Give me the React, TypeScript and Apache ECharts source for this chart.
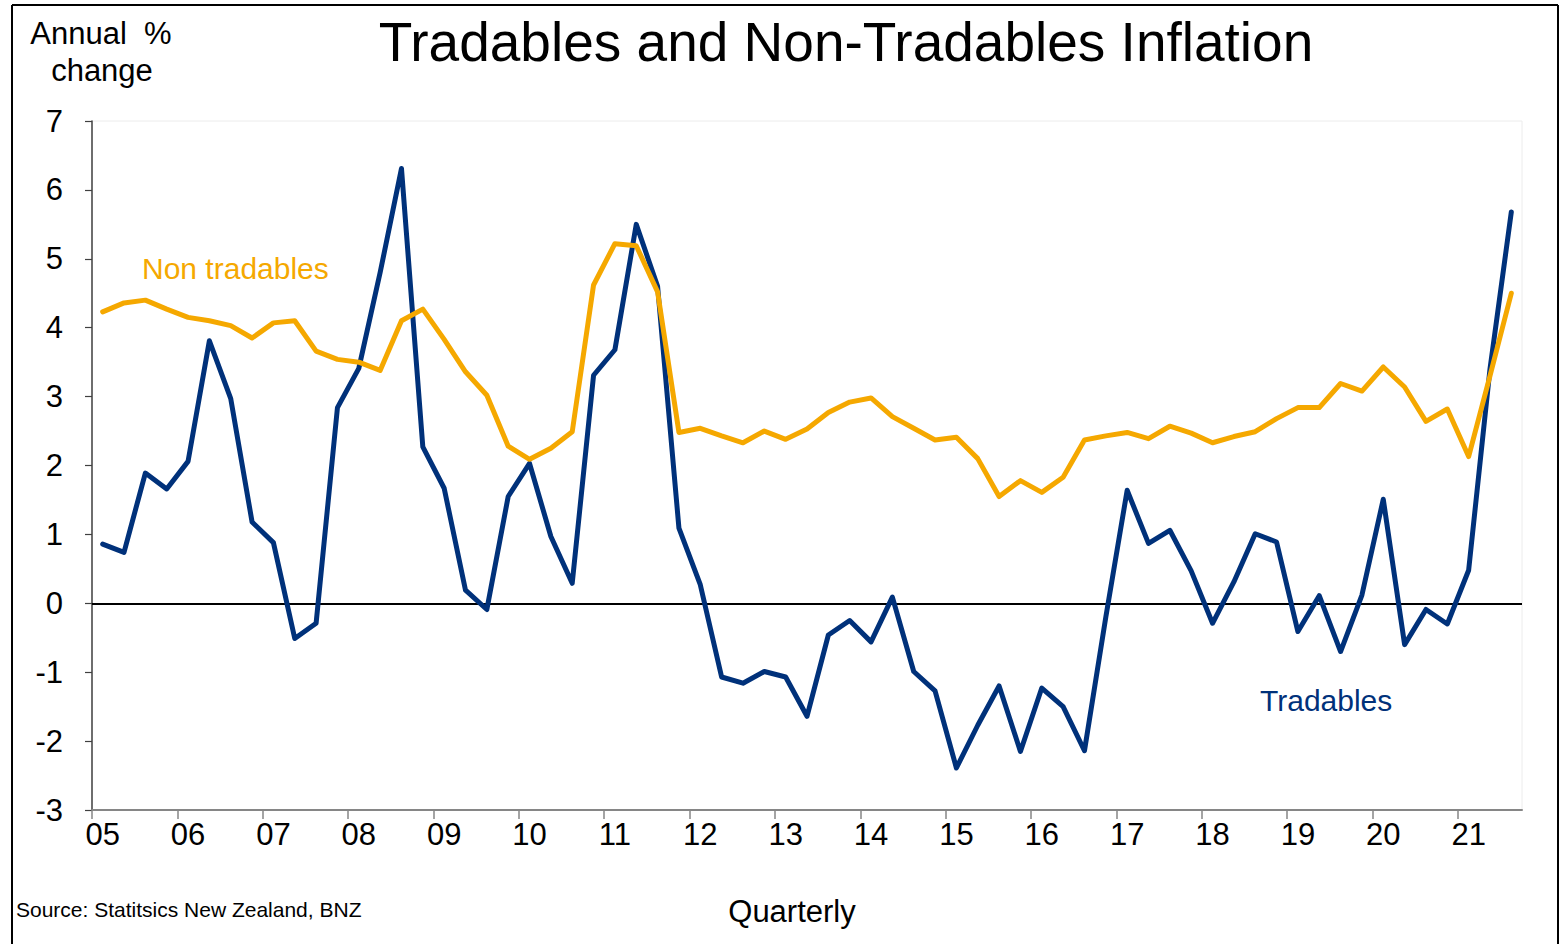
import { useEffect, useRef } from 'react';
import * as echarts from 'echarts';

// Quarterly data, Mar-2005 .. Sep-2021 (67 quarters)
const yearLabels = ['05', '06', '07', '08', '09', '10', '11', '12', '13', '14', '15', '16', '17', '18', '19', '20', '21'];

const tradables = [
  0.86, 0.74, 1.89, 1.66, 2.06, 3.81, 2.97, 1.18, 0.88, -0.51, -0.29, 2.84, 3.41, 4.8, 6.31, 2.27,
  1.67, 0.19, -0.09, 1.55, 2.03, 0.97, 0.29, 3.31, 3.68, 5.5, 4.6, 1.09, 0.27, -1.07, -1.16, -0.99,
  -1.07, -1.64, -0.46, -0.25, -0.56, 0.09, -0.99, -1.27, -2.39, -1.77, -1.2, -2.15, -1.23, -1.5, -2.14, -0.2,
  1.64, 0.87, 1.06, 0.47, -0.29, 0.31, 1.01, 0.89, -0.41, 0.11, -0.7, 0.12, 1.51, -0.6, -0.09, -0.3,
  0.48, 3.4, 5.68,
];

const nonTradables = [
  4.23, 4.36, 4.4, 4.27, 4.15, 4.1, 4.03, 3.85, 4.07, 4.1, 3.66, 3.54, 3.5, 3.38, 4.1, 4.27,
  3.83, 3.36, 3.02, 2.28, 2.09, 2.25, 2.49, 4.62, 5.22, 5.19, 4.52, 2.48, 2.54, 2.43, 2.33, 2.5,
  2.38, 2.53, 2.77, 2.92, 2.98, 2.71, 2.54, 2.37, 2.41, 2.1, 1.55, 1.78, 1.61, 1.83, 2.37, 2.43,
  2.48, 2.39, 2.57, 2.47, 2.33, 2.42, 2.49, 2.68, 2.84, 2.84, 3.19, 3.08, 3.43, 3.14, 2.64, 2.82,
  2.13, 3.3, 4.5,
];

const yTicks = { min: -3, max: 7, step: 1 };

const FONT = "'Liberation Sans', Arial, Helvetica, sans-serif";
const NAVY = '#00317A';
const ORANGE = '#F5A800';

export default function App() {
  const ref = useRef<HTMLDivElement>(null);

  useEffect(() => {
    if (!ref.current) return;
    const chart = echarts.init(ref.current, null, { renderer: 'svg' });
    const labelPos = yearLabels.map((_, k) => k * 4);
    const tickPos = yearLabels.map((_, k) => k * 4 - 0.5);

    chart.setOption({
      animation: false,
      backgroundColor: '#ffffff',
      textStyle: { fontFamily: FONT },
      grid: {
        left: 92,
        right: 44,
        top: 121,
        bottom: 134,
        show: true,
        borderColor: '#ececec',
        borderWidth: 1,
        backgroundColor: 'transparent',
      },
      xAxis: {
        type: 'value',
        min: -0.5,
        max: tradables.length - 0.5,
        splitLine: { show: false },
        axisLine: { onZero: false, lineStyle: { color: '#868686', width: 2 } },
        axisTick: {
          customValues: tickPos,
          length: 9,
          lineStyle: { color: '#868686', width: 1.5 },
        },
        axisLabel: {
          customValues: labelPos,
          formatter: (v: number) => yearLabels[Math.round(v / 4)] ?? '',
          fontSize: 31,
          color: '#000',
          margin: 9,
          fontFamily: FONT,
        },
      },
      yAxis: {
        type: 'value',
        min: yTicks.min,
        max: yTicks.max,
        interval: yTicks.step,
        splitLine: { show: false },
        axisLine: { show: true, onZero: false, lineStyle: { color: '#404040', width: 1.5 } },
        axisTick: { show: true, length: 7, lineStyle: { color: '#404040', width: 1.2 } },
        axisLabel: { fontSize: 31, color: '#000', margin: 29, fontFamily: FONT },
      },
      series: [
        {
          name: 'Tradables',
          type: 'line',
          data: tradables.map((v, i) => [i, v]),
          symbol: 'none',
          lineStyle: { color: NAVY, width: 5, join: 'round', cap: 'round' },
          itemStyle: { color: NAVY },
          z: 3,
          markLine: {
            silent: true,
            symbol: 'none',
            label: { show: false },
            lineStyle: { color: '#000', width: 1.8, type: 'solid' },
            data: [{ yAxis: 0 }],
            z: 2,
          },
        },
        {
          name: 'Non tradables',
          type: 'line',
          data: nonTradables.map((v, i) => [i, v]),
          symbol: 'none',
          lineStyle: { color: ORANGE, width: 5, join: 'round', cap: 'round' },
          itemStyle: { color: ORANGE },
          z: 4,
        },
      ],
      graphic: [
        { type: 'line', shape: { x1: 12, y1: 5, x2: 12, y2: 944 }, style: { stroke: '#000', lineWidth: 2 } },
        { type: 'line', shape: { x1: 12, y1: 5, x2: 1558, y2: 5 }, style: { stroke: '#000', lineWidth: 2 } },
        { type: 'line', shape: { x1: 1558, y1: 5, x2: 1558, y2: 944 }, style: { stroke: '#000', lineWidth: 2 } },
        {
          type: 'text', x: 846, y: 42,
          style: { text: 'Tradables and Non-Tradables Inflation', font: `55px ${FONT}`, fill: '#000', textAlign: 'center', textVerticalAlign: 'middle' },
        },
        {
          type: 'text', x: 101, y: 33,
          style: { text: 'Annual  %', font: `31px ${FONT}`, fill: '#000', textAlign: 'center', textVerticalAlign: 'middle' },
        },
        {
          type: 'text', x: 102, y: 70,
          style: { text: 'change', font: `31px ${FONT}`, fill: '#000', textAlign: 'center', textVerticalAlign: 'middle' },
        },
        {
          type: 'text', x: 142, y: 268,
          style: { text: 'Non tradables', font: `30px ${FONT}`, fill: ORANGE, textAlign: 'left', textVerticalAlign: 'middle' },
        },
        {
          type: 'text', x: 1260, y: 700,
          style: { text: 'Tradables', font: `30px ${FONT}`, fill: NAVY, textAlign: 'left', textVerticalAlign: 'middle' },
        },
        {
          type: 'text', x: 792, y: 911,
          style: { text: 'Quarterly', font: `31px ${FONT}`, fill: '#000', textAlign: 'center', textVerticalAlign: 'middle' },
        },
        {
          type: 'text', x: 16, y: 909,
          style: { text: 'Source: Statitsics New Zealand, BNZ', font: `21px ${FONT}`, fill: '#000', textAlign: 'left', textVerticalAlign: 'middle' },
        },
      ],
    });
    return () => chart.dispose();
  }, []);

  return <div ref={ref} style={{ position: 'absolute', left: 0, top: 0, width: 1566, height: 944 }} />;
}
